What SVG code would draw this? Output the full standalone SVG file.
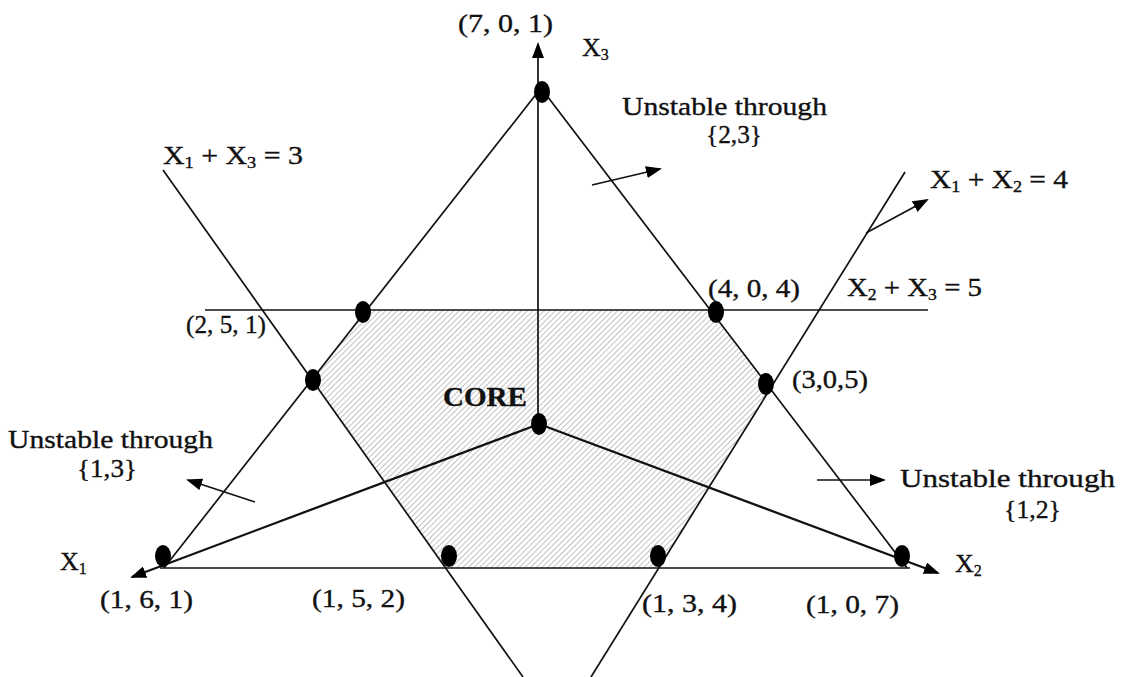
<svg xmlns="http://www.w3.org/2000/svg" width="1123" height="677" viewBox="0 0 1123 677">
<style>
  text { font-family: "Liberation Serif", "Times New Roman", serif; fill: #111; stroke: #111; stroke-width: 0.35; font-size: 26px; }
  .b { font-weight: bold; font-size: 27px; }
  .sub { font-size: 16px; }
  .ln { stroke: #111; stroke-width: 1.7; fill: none; }
  .thick { stroke: #111; stroke-width: 2.3; fill: none; }
  .dot { fill: #000; }
</style>
<defs>
  <pattern id="hatch" patternUnits="userSpaceOnUse" width="4" height="4" patternTransform="rotate(45)">
    <line x1="0" y1="0" x2="0" y2="4" stroke="#666" stroke-width="1"/>
  </pattern>
  <marker id="arr" markerWidth="16" markerHeight="12" refX="14" refY="6" orient="auto" markerUnits="userSpaceOnUse">
    <path d="M0,0 L16,6 L0,12 Z" fill="#000"/>
  </marker>
</defs>
<rect width="1123" height="677" fill="#fff"/>

<g id="core-region">
  <polygon points="366.6,310 710,310 770.6,388.8 659,568 445.6,568 312,379.7" fill="url(#hatch)" opacity="0.8"/>
</g>

<g id="connectors">
  <line class="ln" x1="541" y1="88" x2="164" y2="568"/>
  <line class="ln" x1="541" y1="88" x2="907" y2="568"/>
  <line class="ln" x1="160" y1="568" x2="910" y2="568"/>
  <line class="ln" x1="205" y1="310" x2="928" y2="310"/>
  <line class="ln" x1="163" y1="170" x2="523" y2="677"/>
  <line class="ln" x1="905" y1="172" x2="591" y2="677"/>
  <line class="ln" x1="538" y1="424" x2="538" y2="44" marker-end="url(#arr)"/>
  <line class="thick" x1="539" y1="424" x2="132" y2="577" marker-end="url(#arr)"/>
  <line class="thick" x1="539" y1="424" x2="938" y2="573" marker-end="url(#arr)"/>
  <line class="ln" x1="592" y1="185" x2="660" y2="169" marker-end="url(#arr)"/>
  <line class="ln" x1="255" y1="502" x2="188" y2="480" marker-end="url(#arr)"/>
  <line class="ln" x1="817" y1="480" x2="884" y2="480" marker-end="url(#arr)"/>
  <line class="ln" x1="866" y1="233" x2="927" y2="200" marker-end="url(#arr)"/>
</g>

<g id="p701">
  <ellipse class="dot" cx="542" cy="92" rx="8" ry="11"/>
  <text x="458" y="32" textLength="95" lengthAdjust="spacingAndGlyphs">(7, 0, 1)</text>
</g>
<g id="x3-label"><text x="582" y="56">X<tspan class="sub" dy="4">3</tspan></text></g>
<g id="line13-label"><text x="163" y="164" textLength="140" lengthAdjust="spacingAndGlyphs">X<tspan class="sub" dy="4">1</tspan><tspan dy="-4"> + X</tspan><tspan class="sub" dy="4">3</tspan><tspan dy="-4"> = 3</tspan></text></g>
<g id="line12-label"><text x="930" y="188" textLength="138" lengthAdjust="spacingAndGlyphs">X<tspan class="sub" dy="4">1</tspan><tspan dy="-4"> + X</tspan><tspan class="sub" dy="4">2</tspan><tspan dy="-4"> = 4</tspan></text></g>
<g id="line23-label"><text x="847" y="296" textLength="135" lengthAdjust="spacingAndGlyphs">X<tspan class="sub" dy="4">2</tspan><tspan dy="-4"> + X</tspan><tspan class="sub" dy="4">3</tspan><tspan dy="-4">  =  5</tspan></text></g>
<g id="unstable23">
  <text x="622" y="115" textLength="205" lengthAdjust="spacingAndGlyphs">Unstable through</text>
  <text x="706" y="143" textLength="56" lengthAdjust="spacingAndGlyphs">{2,3}</text>
</g>
<g id="p404">
  <ellipse class="dot" cx="716" cy="312" rx="8" ry="11"/>
  <text x="708" y="297" textLength="92" lengthAdjust="spacingAndGlyphs">(4, 0, 4)</text>
</g>
<g id="p-left-top">
  <ellipse class="dot" cx="363" cy="312" rx="8" ry="11"/>
</g>
<g id="p251">
  <ellipse class="dot" cx="313" cy="380" rx="8" ry="11"/>
  <text x="186" y="333" textLength="80" lengthAdjust="spacingAndGlyphs">(2, 5, 1)</text>
</g>
<g id="p305">
  <ellipse class="dot" cx="766" cy="384" rx="8" ry="11"/>
  <text x="792" y="388" textLength="76" lengthAdjust="spacingAndGlyphs">(3,0,5)</text>
</g>
<g id="core">
  <ellipse class="dot" cx="539" cy="424" rx="8" ry="11"/>
  <text class="b" x="443" y="406" textLength="84" lengthAdjust="spacingAndGlyphs">CORE</text>
</g>
<g id="unstable13">
  <text x="8" y="448" textLength="205" lengthAdjust="spacingAndGlyphs">Unstable through</text>
  <text x="77" y="477" textLength="60" lengthAdjust="spacingAndGlyphs">{1,3}</text>
</g>
<g id="unstable12">
  <text x="900" y="487" textLength="215" lengthAdjust="spacingAndGlyphs">Unstable through</text>
  <text x="1004" y="518" textLength="57" lengthAdjust="spacingAndGlyphs">{1,2}</text>
</g>
<g id="p161">
  <ellipse class="dot" cx="163" cy="556" rx="8" ry="11"/>
  <text x="100" y="608" textLength="93" lengthAdjust="spacingAndGlyphs">(1, 6, 1)</text>
  <text x="60" y="570">X<tspan class="sub" dy="4">1</tspan></text>
</g>
<g id="p152">
  <ellipse class="dot" cx="449" cy="556" rx="8" ry="11"/>
  <text x="312" y="607" textLength="93" lengthAdjust="spacingAndGlyphs">(1, 5, 2)</text>
</g>
<g id="p134">
  <ellipse class="dot" cx="658" cy="556" rx="8" ry="11"/>
  <text x="642" y="612" textLength="95" lengthAdjust="spacingAndGlyphs">(1, 3, 4)</text>
</g>
<g id="p107">
  <ellipse class="dot" cx="902" cy="556" rx="8" ry="11"/>
  <text x="806" y="613" textLength="93" lengthAdjust="spacingAndGlyphs">(1, 0, 7)</text>
  <text x="955" y="572">X<tspan class="sub" dy="4">2</tspan></text>
</g>
</svg>
